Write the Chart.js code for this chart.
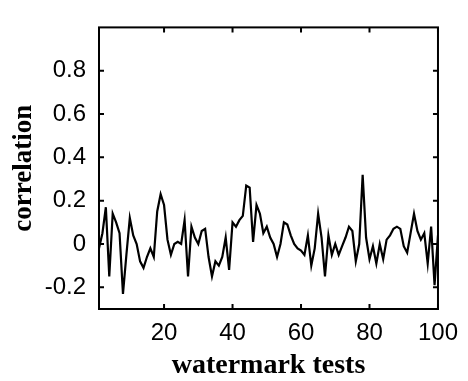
<!DOCTYPE html>
<html>
<head>
<meta charset="utf-8">
<script src="https://cdn.jsdelivr.net/npm/chart.js@4"></script>
<style>
  html, body { margin: 0; padding: 0; background: #fff; }
  canvas { display: block; }
</style>
</head>
<body>
<canvas id="corrChart" width="468" height="381"></canvas>
<script>
var tests = [
    1, 2, 3, 4, 5, 6, 7, 8, 9, 10,
    11, 12, 13, 14, 15, 16, 17, 18, 19, 20,
    21, 22, 23, 24, 25, 26, 27, 28, 29, 30,
    31, 32, 33, 34, 35, 36, 37, 38, 39, 40,
    41, 42, 43, 44, 45, 46, 47, 48, 49, 50,
    51, 52, 53, 54, 55, 56, 57, 58, 59, 60,
    61, 62, 63, 64, 65, 66, 67, 68, 69, 70,
    71, 72, 73, 74, 75, 76, 77, 78, 79, 80,
    81, 82, 83, 84, 85, 86, 87, 88, 89, 90,
    91, 92, 93, 94, 95, 96, 97, 98, 99, 100
];
var correlation = [
    -0.02, 0.05, 0.17, -0.15, 0.14, 0.10, 0.05, -0.23, -0.05, 0.12,
    0.04, 0.00, -0.08, -0.11, -0.06, -0.02, -0.06, 0.15, 0.23, 0.18,
    0.02, -0.05, 0.00, 0.01, 0.00, 0.11, -0.15, 0.08, 0.03, 0.00,
    0.06, 0.07, -0.06, -0.15, -0.08, -0.10, -0.06, 0.03, -0.12, 0.10,
    0.08, 0.11, 0.13, 0.27, 0.26, 0.01, 0.18, 0.14, 0.05, 0.08,
    0.03, 0.00, -0.06, 0.00, 0.10, 0.09, 0.04, 0.00, -0.02, -0.03,
    -0.05, 0.04, -0.10, -0.02, 0.14, 0.03, -0.15, 0.04, -0.05, 0.00,
    -0.05, -0.01, 0.03, 0.08, 0.06, -0.08, 0.00, 0.32, 0.03, -0.07,
    -0.01, -0.09, 0.00, -0.07, 0.02, 0.04, 0.07, 0.08, 0.07, -0.01,
    -0.04, 0.05, 0.14, 0.06, 0.02, 0.05, -0.09, 0.08, -0.19, 0.04
];
var xTicks = [20, 40, 60, 80, 100];
var yTicks = [-0.2, 0, 0.2, 0.4, 0.6, 0.8];
var yTickLabels = ['-0.2', '0', '0.2', '0.4', '0.6', '0.8'];

// box round the plot with short inward ticks on every side
var frameTicks = {
    id: 'frameTicks',
    afterDatasetsDraw: function (chart) {
        var ctx = chart.ctx;
        var a = chart.chartArea;
        var xs = chart.scales.x;
        var ys = chart.scales.y;
        ctx.save();
        ctx.strokeStyle = '#000';
        ctx.lineWidth = 2;
        ctx.strokeRect(a.left, a.top, a.right - a.left, a.bottom - a.top);
        ctx.beginPath();
        xs.ticks.forEach(function (t) {
            var px = xs.getPixelForValue(t.value);
            ctx.moveTo(px, a.bottom);
            ctx.lineTo(px, a.bottom - 5);
            ctx.moveTo(px, a.top);
            ctx.lineTo(px, a.top + 5);
        });
        ys.ticks.forEach(function (t) {
            var py = ys.getPixelForValue(t.value);
            ctx.moveTo(a.left, py);
            ctx.lineTo(a.left + 5, py);
            ctx.moveTo(a.right, py);
            ctx.lineTo(a.right - 5, py);
        });
        ctx.stroke();
        ctx.restore();
    }
};

var tickFont = { family: "Arial, 'Liberation Sans', sans-serif", size: 24 };
var titleFont = { family: "'Liberation Serif', 'Times New Roman', serif", size: 28, weight: 'bold' };

var points = tests.map(function (t, i) {
    return { x: t, y: correlation[i] };
});

var ctx = document.getElementById('corrChart').getContext('2d');
var corrChart = new Chart(ctx, {
    type: 'line',
    data: {
        datasets: [{
            data: points,
            borderColor: '#000',
            borderWidth: 2.2,
            pointRadius: 0,
            tension: 0,
            fill: false
        }]
    },
    options: {
        responsive: false,
        animation: false,
        layout: { padding: { top: 13, right: 22, left: 0, bottom: 0 } },
        plugins: {
            legend: { display: false },
            tooltip: { enabled: false }
        },
        scales: {
            x: {
                type: 'linear',
                min: 1,
                max: 100,
                grid: { display: false, drawTicks: false },
                border: { display: false },
                afterBuildTicks: function (scale) {
                    scale.ticks = xTicks.map(function (v) { return { value: v }; });
                },
                afterFit: function (scale) { scale.height = 72; },
                ticks: {
                    color: '#000',
                    font: tickFont,
                    padding: 10,
                    maxRotation: 0,
                    callback: function (v) { return String(v); }
                },
                title: {
                    display: true,
                    text: 'watermark tests',
                    color: '#000',
                    font: titleFont,
                    padding: { top: 0, bottom: -2 }
                }
            },
            y: {
                min: -0.3,
                max: 1.0,
                grid: { display: false, drawTicks: false },
                border: { display: false },
                afterBuildTicks: function (scale) {
                    scale.ticks = yTicks.map(function (v) { return { value: v }; });
                },
                afterFit: function (scale) { scale.width = 99; },
                ticks: {
                    color: '#000',
                    font: tickFont,
                    padding: 13,
                    callback: function (v, i) { return yTickLabels[i]; }
                },
                title: {
                    display: true,
                    text: 'correlation',
                    color: '#000',
                    font: { family: titleFont.family, size: 27, weight: 'bold' },
                    padding: { top: 8, bottom: 0 }
                }
            }
        }
    },
    plugins: [frameTicks]
});
</script>
</body>
</html>
